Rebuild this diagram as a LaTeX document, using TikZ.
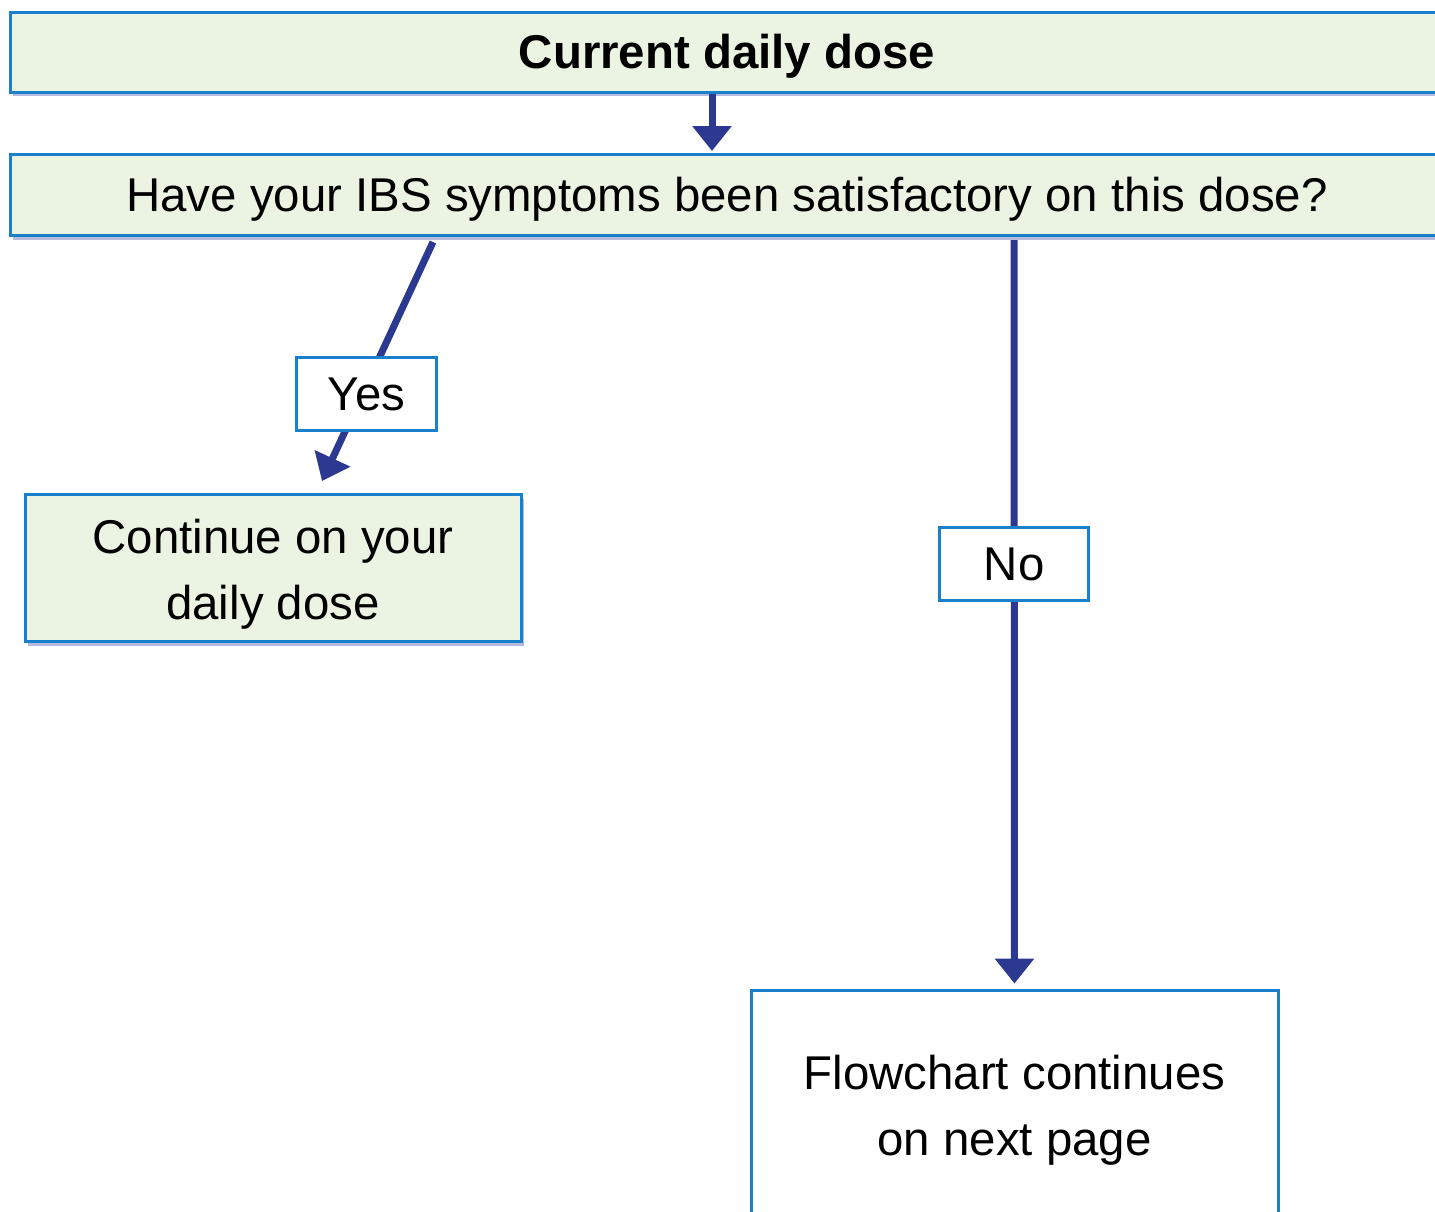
\documentclass[tikz,border=0pt]{standalone}
\usepackage{fontspec}
\setmainfont{Liberation Sans}
\usepackage{xcolor}
\usepackage{tikz}
\usetikzlibrary{arrows.meta,shadows,calc}

\definecolor{boxblue}{RGB}{26,128,204}
\definecolor{boxgreen}{RGB}{235,244,227}
\definecolor{arrownavy}{RGB}{43,57,144}
\definecolor{shadowblue}{RGB}{150,156,210}

\tikzset{
  greenbox/.style={draw=boxblue,line width=1.5pt,fill=boxgreen,inner sep=0pt,align=center,
    drop shadow={shadow xshift=1.5pt,shadow yshift=-2pt,fill=shadowblue,opacity=0.7}},
  whitebox/.style={draw=boxblue,line width=1.5pt,fill=white,inner sep=0pt,align=center},
  flow/.style={draw=arrownavy,line width=3.5pt,-{Triangle[width=19pt,length=12.5pt]}},
  boxfont/.style={font=\fontsize{23.7}{33}\selectfont}
}

\begin{document}
\begin{tikzpicture}[x=0.5pt,y=-0.5pt,boxfont]
    % Marco de la figura
    \useasboundingbox (0,0) rectangle (1435,1211);

    % Cajas principales
    \node[greenbox,minimum width=717pt,minimum height=40pt,text height=21pt,text depth=5pt,
      font=\fontsize{23.7}{33}\selectfont\bfseries]
      (dose) at (727,52) {Current daily dose};
    \node[greenbox,minimum width=717pt,minimum height=40.5pt,text height=21pt,text depth=5pt]
      (ask) at (727,195) {Have your IBS symptoms been satisfactory on this dose?};
    \node[greenbox,minimum width=248pt,minimum height=73.5pt,text height=56pt,text depth=5pt]
      (keep) at (273,568) {Continue on your\\daily dose};
    \node[whitebox,minimum width=263.5pt,minimum height=120pt]
      (next) at (1014.5,1110) {Flowchart continues\\on next page};

    % Flechas
    \draw[flow] ([xshift=-7.5pt]dose.south) -- ([xshift=-7.5pt,yshift=1pt]ask.north);
    \draw[flow] ([xshift=-147pt,yshift=-2.5pt]ask.south)
      -- node[whitebox,pos=0.636,xshift=2pt,minimum width=70pt,minimum height=36.5pt] (yes) {Yes}
      ([xshift=24.5pt,yshift=6pt]keep.north);
    \draw[flow] ([xshift=143.5pt,yshift=-1.5pt]ask.south)
      -- node[whitebox,pos=0.436,minimum width=74.5pt,minimum height=36.5pt] (no) {No}
      ([yshift=2.5pt]next.north);
\end{tikzpicture}
\end{document}
